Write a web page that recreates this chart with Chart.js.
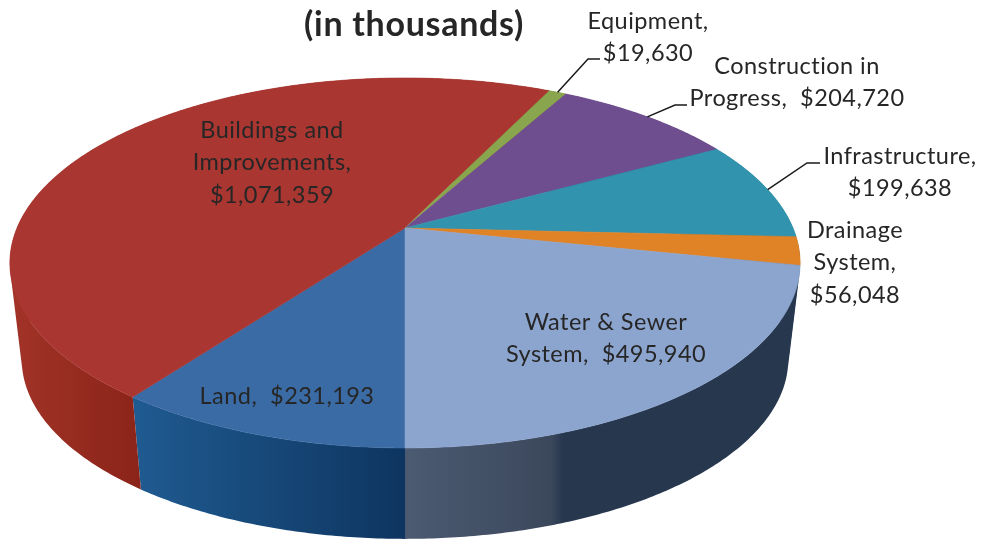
<!DOCTYPE html>
<html>
<head>
<meta charset="utf-8">
<style>html,body{margin:0;padding:0;background:#fff}canvas{display:block}</style>
<script src="https://cdn.jsdelivr.net/npm/chart.js@4"></script>
</head>
<body>
<canvas id="c" width="989" height="542"></canvas>
<script>
// ---- data ----
const categories = ["Land","Buildings and Improvements","Equipment","Construction in Progress","Infrastructure","Drainage System","Water & Sewer System"];
const values = [231193,1071359,19630,204720,199638,56048,495940];
const titleText = "(in thousands)";
const labelLines = [
  ["Land,  $231,193"],
  ["Buildings and","Improvements,","$1,071,359"],
  ["Equipment,","$19,630"],
  ["Construction in","Progress,  $204,720"],
  ["Infrastructure,","$199,638"],
  ["Drainage","System,","$56,048"],
  ["Water & Sewer","System,  $495,940"]
];
// ---- styles ----
const topColors = ["#3a6ba5","#a93631","#89a54e","#6f4e8f","#3193ae","#e08327","#8ca5cf"];
const wallStops = [
  [[0,"#1f5a90"],[1,"#0e3560"]],
  [[0,"#a23328"],[1,"#8b2419"]],
  [[0,"#5c7a30"],[1,"#5c7a30"]],
  [[0,"#4a3360"],[1,"#4a3360"]],
  [[0,"#1f6478"],[1,"#1f6478"]],
  [[0,"#26374e"],[1,"#26374e"]],
  [[0,"#4c5a72"],[0.37,"#3b485c"],[0.4,"#26374e"],[1,"#26374e"]]
];
const wallRanges = [[138,405],[10,138],[540,560],[560,700],[700,790],[780,800],[405,800]];
const labelAnchors = [[287,396],[272,130],[648,21],[797,66],[900,156],[855,230],[606,322]];
const lineGap = 32.5;
const elbows = {2:[[588,59],[600,59]],3:[[675,105],[687,105]],4:[[807,163],[820,163]]};
// ---- projection of the pie's disc (perspective view) ----
const view = {cx:405, cy:228, a:388, b:178.4, p:0.189, depthY:97.5, depthScale:0.97};
function project(angle, lower){
  const u=Math.cos(angle), v=Math.sin(angle), w=1-view.p*v;
  const s=lower?view.depthScale:1;
  return [view.cx+s*view.a*u/w, view.cy+(lower?view.depthY:0)+s*view.b*v/w];
}
function arcPoints(start,end,lower){
  const n=Math.max(2,Math.ceil((end-start)/0.01)), pts=[];
  for(let i=0;i<=n;i++) pts.push(project(start+(end-start)*i/n,lower));
  return pts;
}
function addQuad(ctx,q){
  let area=0;
  for(let i=0;i<4;i++){const p=q[i],r=q[(i+1)%4];area+=p[0]*r[1]-r[0]*p[1];}
  const pts=area<0?q.slice().reverse():q;
  ctx.moveTo(pts[0][0],pts[0][1]);
  for(let i=1;i<4;i++) ctx.lineTo(pts[i][0],pts[i][1]);
  ctx.closePath();
}
const pie3d = {
  id:'pie3d',
  beforeDatasetDraw(chart,args){
    const ctx=chart.ctx, arcs=args.meta.data;
    ctx.save();
    // side wall: a ruled strip between the upper and the lower rim, filled as one path
    arcs.forEach((el,i)=>{
      const top=arcPoints(el.startAngle,el.endAngle,false);
      const low=arcPoints(el.startAngle,el.endAngle,true);
      const g=ctx.createLinearGradient(wallRanges[i][0],0,wallRanges[i][1],0);
      wallStops[i].forEach(s=>g.addColorStop(s[0],s[1]));
      ctx.fillStyle=g;
      ctx.beginPath();
      for(let k=0;k<top.length-1;k++){
        addQuad(ctx,[top[k],top[k+1],low[k+1],low[k]]);
      }
      ctx.fill();
    });
    // top face
    arcs.forEach((el,i)=>{
      ctx.fillStyle=topColors[i];
      ctx.strokeStyle=topColors[i];
      ctx.lineWidth=0.6;
      ctx.beginPath();
      ctx.moveTo(view.cx,view.cy);
      arcPoints(el.startAngle,el.endAngle,false).forEach(q=>ctx.lineTo(q[0],q[1]));
      ctx.closePath(); ctx.fill(); ctx.stroke();
    });
    // leader lines
    ctx.strokeStyle="#1a1a1a"; ctx.lineWidth=1.5;
    Object.keys(elbows).forEach(k=>{
      const el=arcs[k], st=project((el.startAngle+el.endAngle)/2,false);
      ctx.beginPath(); ctx.moveTo(st[0],st[1]);
      elbows[k].forEach(q=>ctx.lineTo(q[0],q[1]));
      ctx.stroke();
    });
    // labels
    ctx.fillStyle="#262626"; ctx.textAlign="center"; ctx.textBaseline="middle";
    ctx.font="23.5px Lato"; ctx.letterSpacing="0.45px";
    labelLines.forEach((lines,i)=>{
      lines.forEach((t,j)=>ctx.fillText(t,labelAnchors[i][0],labelAnchors[i][1]+j*lineGap));
    });
    ctx.font="bold 34px Lato"; ctx.letterSpacing="0.7px";
    ctx.fillText(titleText,414,25);
    ctx.restore();
    return false;
  }
};
new Chart(document.getElementById('c'),{
  type:'pie',
  data:{labels:categories,datasets:[{data:values,backgroundColor:topColors,borderWidth:0}]},
  options:{
    responsive:false,animation:false,rotation:180,
    plugins:{legend:{display:false},tooltip:{enabled:false},title:{display:false}}
  },
  plugins:[pie3d]
});
</script>
</body>
</html>
